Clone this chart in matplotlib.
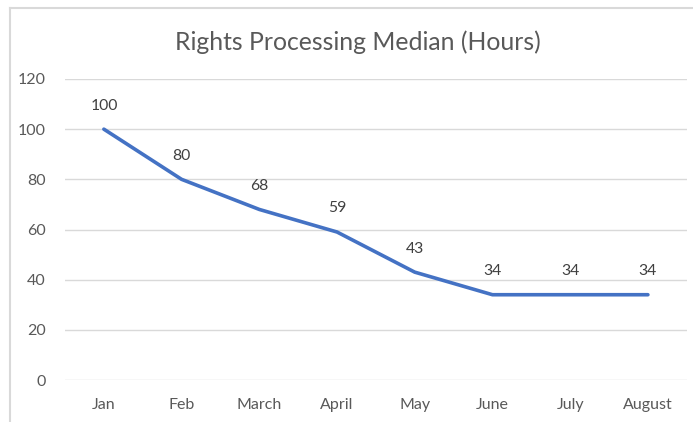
import matplotlib.pyplot as plt
from matplotlib.lines import Line2D

months = ['Jan', 'Feb', 'March', 'April', 'May', 'June', 'July', 'August']
median_hours = [100, 80, 68, 59, 43, 34, 34, 34]

plt.rcParams['font.family'] = ['Lato', 'DejaVu Sans']

fig = plt.figure(figsize=(6.93, 4.22), dpi=100)
ax = fig.add_axes([0.0938, 0.0995, 0.8972, 0.7133])

x = list(range(len(months)))
ax.plot(x, median_hours, color='#4472C4', linewidth=2.6, solid_capstyle='round', zorder=3)

for xi, v in zip(x, median_hours):
    ax.annotate(str(v), (xi, v), xytext=(0, 17), textcoords='offset points',
                ha='center', va='center', fontsize=11.3, color='#404040')

ax.set_xlim(-0.5, len(months) - 0.5)
ax.set_ylim(0, 120)
ax.set_yticks(range(0, 121, 20))
ax.set_xticks(x)
ax.set_xticklabels(months)
ax.tick_params(axis='both', length=0, labelsize=11.5, labelcolor='#595959')
ax.tick_params(axis='y', pad=14)
ax.tick_params(axis='x', pad=13)
ax.grid(axis='y', color='#D9D9D9', linewidth=1)
ax.set_axisbelow(True)
for s in ax.spines.values():
    s.set_visible(False)

fig.text(0.517, 0.9, 'Rights Processing Median (Hours)', ha='center', va='center',
         fontsize=17.8, color='#595959')

# chart border (cropped on right and bottom)
fig.add_artist(Line2D([0.0144, 0.0144], [0.0, 0.982], color='#D9D9D9', linewidth=1.5))
fig.add_artist(Line2D([0.0144, 1.0], [0.982, 0.982], color='#D9D9D9', linewidth=1.5))

fig.savefig('out.png', dpi=100)
